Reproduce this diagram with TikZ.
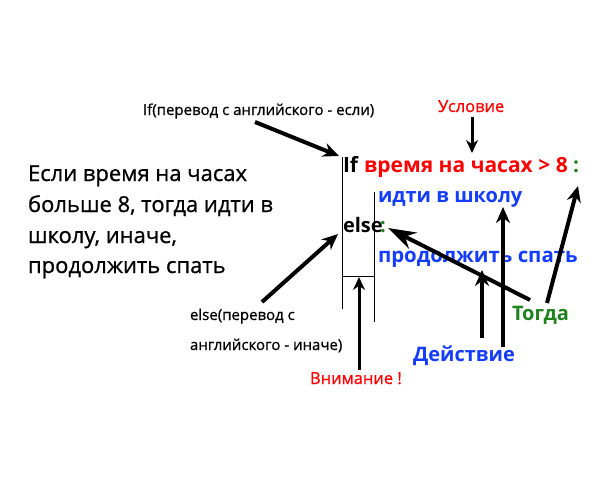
\documentclass[tikz,border=0pt]{standalone}
\usepackage{fontspec}
\setmainfont{Open Sans}
\newfontfamily\semifont[FakeBold=0.8]{Open Sans}
\usetikzlibrary{arrows.meta}
\definecolor{cred}{RGB}{255,0,0}
\definecolor{cblue}{RGB}{20,60,255}
\definecolor{cgreen}{RGB}{30,130,30}
\tikzset{
  txt/.style={anchor=base west, inner sep=0pt, outer sep=0pt},
  code/.style={txt, font=\fontsize{20}{24}\selectfont\bfseries},
  small/.style={txt, font=\semifont\fontsize{15}{18}\selectfont},
  para/.style={txt, font=\semifont\fontsize{22}{26}\selectfont},
  thick arrow/.style={line width=4pt, -{Stealth[length=16pt,width=14pt]}},
  thin arrow/.style={line width=3pt, -{Stealth[length=13pt,width=12pt]}},
  guide/.style={line width=0.8pt}
}
\begin{document}
\begin{tikzpicture}[x=1pt,y=-1pt]
\useasboundingbox (0,0) rectangle (598,479);
% left paragraph
\node[para] (p1) at (28,181) {Если время на часах};
\node[para] (p2) at (28,212) {больше 8, тогда идти в};
\node[para] (p3) at (28,243) {школу, иначе,};
\node[para] (p4) at (28,273) {продолжить спать};
% small labels
\node[small] (iflab) at (143,115) {If(перевод с английского - если)};
\node[small] (elselab1) at (190,320) {else(перевод с};
\node[small] (elselab2) at (190,350) {английского - иначе)};
\node[small, text=cred, font=\semifont\fontsize{16.5}{18}\selectfont] (cond) at (438,112) {Условие};
\node[small, text=cred, font=\semifont\fontsize{16.5}{18}\selectfont] (warn) at (310,384) {Внимание !};
% code
\node[code, font=\fontsize{21}{24}\selectfont\bfseries] (if) at (343,172) {If};
\node[code, text=cred, font=\fontsize{21}{24}\selectfont\bfseries] (expr) at (364,172) {время на часах > 8};
\node[code, text=cgreen, font=\fontsize{21}{24}\selectfont\bfseries] (colon1) at (573,172) {:};
\node[code, text=cblue] (act1) at (378,202) {идти в школу};
\node[code] (else) at (343,232) {else};
\node[code, text=cgreen] (colon2) at (380,232) {:};
\node[code, text=cblue, font=\fontsize{20.4}{24}\selectfont\bfseries] (act2) at (378,262) {продолжить спать};
\node[code, text=cgreen] (then) at (512,320) {Тогда};
\node[code, text=cblue] (action) at (413,361) {Действие};
% guide lines
\coordinate (gl1) at (342,157);
\coordinate (gl2) at (342,309);
\coordinate (gr1) at (374,192);
\coordinate (gr2) at (374,322);
\coordinate (gh1) at (342,276);
\coordinate (gh2) at (374,276);
\draw[guide] (gl1) -- (gl2);
\draw[guide] (gr1) -- (gr2);
\draw[guide] (gh1) -- (gh2);
% arrow endpoints
\coordinate (a1s) at (255,122); \coordinate (a1e) at (339,156);
\coordinate (a2s) at (262,302); \coordinate (a2e) at (338,234);
\coordinate (a3s) at (472,117); \coordinate (a3e) at (472,153);
\coordinate (a4s) at (359,370); \coordinate (a4e) at (359,277);
\coordinate (a5s) at (482,338); \coordinate (a5e) at (482,270);
\coordinate (a6s) at (503,347); \coordinate (a6e) at (503,207);
\coordinate (a7s) at (530,300); \coordinate (a7e) at (388,228);
\coordinate (a8s) at (547,303); \coordinate (a8e) at (578,186);
\draw[thick arrow] (a1s) -- (a1e);
\draw[thick arrow] (a2s) -- (a2e);
\draw[thin arrow] (a3s) -- (a3e);
\draw[thin arrow] (a4s) -- (a4e);
\draw[thick arrow] (a5s) -- (a5e);
\draw[thick arrow] (a6s) -- (a6e);
\draw[line width=4pt, -{Stealth[length=28pt,width=18pt,inset=9pt]}] (a7s) -- (a7e);
\draw[thick arrow] (a8s) -- (a8e);
\end{tikzpicture}
\end{document}
